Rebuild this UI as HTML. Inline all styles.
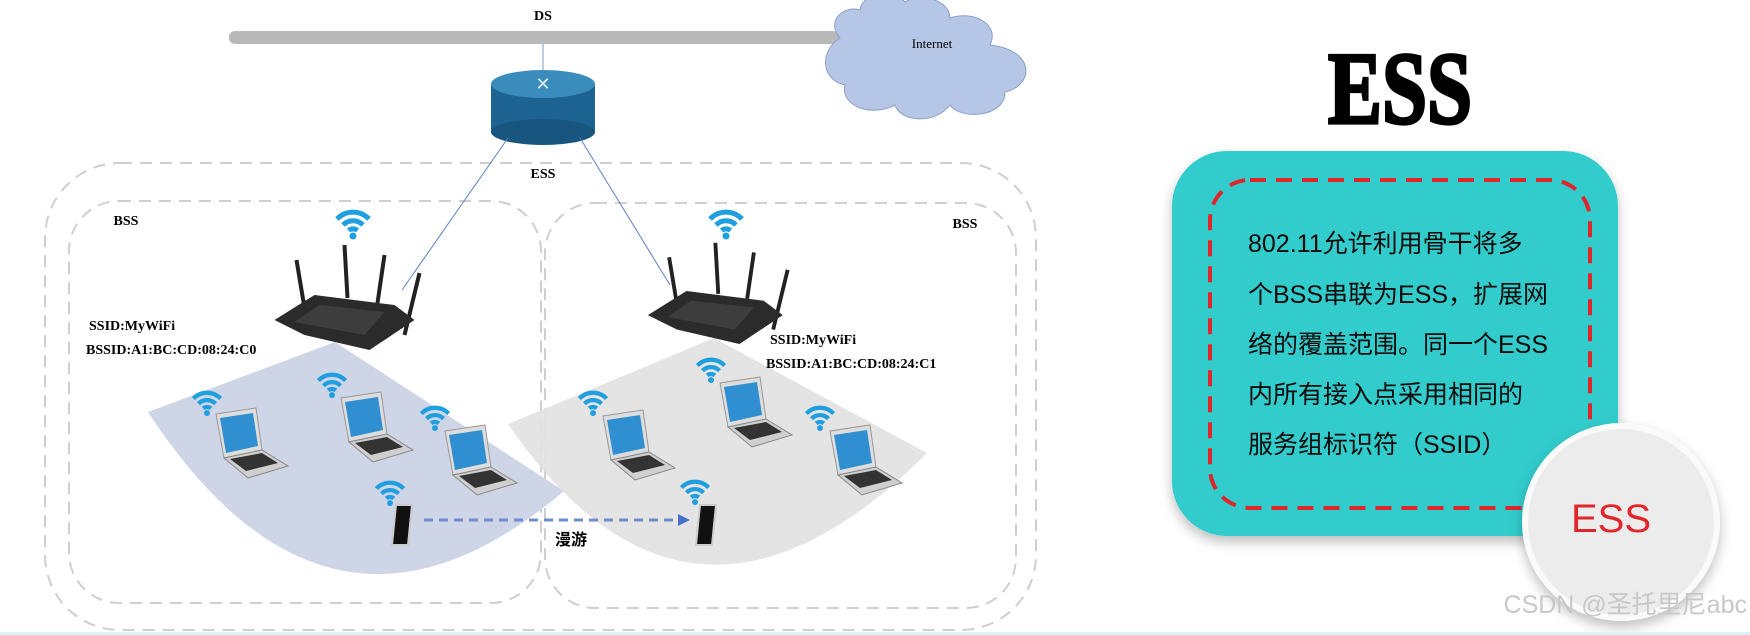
<!DOCTYPE html>
<html><head><meta charset="utf-8"><style>
html,body{margin:0;padding:0;background:#fff;width:1750px;height:635px;overflow:hidden}
svg{display:block}
</style></head><body>
<svg width="1750" height="635" viewBox="0 0 1750 635" xmlns="http://www.w3.org/2000/svg">
<defs>
<symbol id="wifi" viewBox="0 0 40 40" overflow="visible">
<path d="M4,16 A22,22 0 0 1 36,16" stroke="#1f9ee0" stroke-width="5" fill="none"/>
<path d="M10,22 A14,14 0 0 1 30,22" stroke="#1f9ee0" stroke-width="5" fill="none"/>
<path d="M15.5,27.5 A7,7 0 0 1 24.5,27.5" stroke="#1f9ee0" stroke-width="5" fill="none"/>
<circle cx="20" cy="33" r="3.5" fill="#1f9ee0"/>
</symbol>
<symbol id="laptop" viewBox="0 0 80 70" overflow="visible">
<polygon points="8,6 48,0 54,42 16,50" fill="#ddd" stroke="#999" stroke-width="1"/>
<polygon points="12,10 45,5 50,38 18,45" fill="#2f8fd0"/>
<polygon points="16,50 54,42 80,58 40,70" fill="#cfcfcf" stroke="#888" stroke-width="1"/>
<polygon points="22,51 54,45 70,55 38,63" fill="#333"/>
</symbol>
<symbol id="router" viewBox="0 0 160 110" overflow="visible">
<line x1="22" y1="20" x2="30" y2="68" stroke="#222" stroke-width="4"/>
<line x1="70" y1="5" x2="73" y2="58" stroke="#222" stroke-width="4"/>
<line x1="110" y1="15" x2="103" y2="63" stroke="#222" stroke-width="4"/>
<line x1="145" y1="33" x2="130" y2="95" stroke="#222" stroke-width="4"/>
<polygon points="0,80 40,55 120,65 140,80 95,110 30,95" fill="#2b2b2b"/>
<polygon points="20,82 45,65 110,72 90,95" fill="#3d3d3d"/>
</symbol>
<filter id="sh" x="-30%" y="-30%" width="160%" height="160%"><feDropShadow dx="0" dy="6" stdDeviation="6" flood-color="#000" flood-opacity="0.25"/></filter>
</defs>

<text x="543" y="20" font-family="Liberation Serif" font-weight="bold" font-size="14" text-anchor="middle">DS</text>
<line x1="543" y1="42" x2="543" y2="82" stroke="#7a9cc6" stroke-width="1"/>
<rect x="229" y="31" width="610" height="13" rx="6" fill="#b9b9b9"/>
<path d="M840,38 C825,20 845,5 860,10 C862,-8 895,-10 905,2 C920,-8 950,0 950,18 C975,10 1000,25 990,45 C1035,50 1035,85 1005,92 C1005,118 960,120 950,105 C935,125 900,122 895,105 C870,118 840,105 845,85 C820,80 820,50 840,38 Z" fill="#b6c6e6" stroke="#8aa0c8" stroke-width="1"/>
<text x="932" y="48" font-family="Liberation Serif" font-size="13" text-anchor="middle">Internet</text>

<rect x="45" y="163" width="991" height="467" rx="75" fill="none" stroke="#cfcfcf" stroke-width="2" stroke-dasharray="12 8"/>
<rect x="69" y="201" width="472" height="402" rx="50" fill="none" stroke="#cfcfcf" stroke-width="2" stroke-dasharray="12 8"/>
<rect x="545" y="203" width="471" height="405" rx="50" fill="none" stroke="#cfcfcf" stroke-width="2" stroke-dasharray="12 8"/>

<path d="M335,342 L148,412 Q330,690 564,491 Z" fill="#cdd5e6"/>
<path d="M714,338 L508,424 Q690,690 927,453 Z" fill="#e2e2e2" opacity="0.92"/>

<rect x="491" y="84" width="104" height="48" fill="#1d6391"/>
<ellipse cx="543" cy="132" rx="52" ry="13" fill="#17557e"/>
<ellipse cx="543" cy="84" rx="52" ry="14" fill="#3a8cbd"/>
<text x="543" y="90" font-family="DejaVu Sans" font-size="18" fill="#d9ecf7" text-anchor="middle">✕</text>
<line x1="508" y1="138" x2="402" y2="290" stroke="#5b7fc4" stroke-width="1"/>
<line x1="580" y1="138" x2="670" y2="285" stroke="#5b7fc4" stroke-width="1"/>
<text x="543" y="178" font-family="Liberation Serif" font-weight="bold" font-size="14" text-anchor="middle">ESS</text>

<text x="126" y="225" font-family="Liberation Serif" font-weight="bold" font-size="14" text-anchor="middle">BSS</text>
<text x="965" y="228" font-family="Liberation Serif" font-weight="bold" font-size="14" text-anchor="middle">BSS</text>

<use href="#wifi" x="333" y="203" width="40" height="40"/>
<use href="#router" x="272" y="240" width="165" height="110"/>
<use href="#wifi" x="706" y="203" width="40" height="40"/>
<use href="#router" x="644" y="238" width="162" height="106"/>

<g font-family="Liberation Serif" font-weight="bold" font-size="14">
<text x="89" y="330">SSID:MyWiFi</text>
<text x="86" y="354">BSSID:A1:BC:CD:08:24:C0</text>
<text x="770" y="344">SSID:MyWiFi</text>
<text x="766" y="368">BSSID:A1:BC:CD:08:24:C1</text>
</g>

<use href="#wifi" x="190" y="385" width="34" height="34"/>
<use href="#laptop" x="208" y="408" width="80" height="70"/>
<use href="#wifi" x="315" y="367" width="34" height="34"/>
<use href="#laptop" x="333" y="392" width="80" height="70"/>
<use href="#wifi" x="418" y="400" width="34" height="34"/>
<use href="#laptop" x="437" y="425" width="80" height="70"/>
<use href="#wifi" x="576" y="385" width="34" height="34"/>
<use href="#laptop" x="595" y="410" width="80" height="70"/>
<use href="#wifi" x="694" y="352" width="34" height="34"/>
<use href="#laptop" x="712" y="377" width="80" height="70"/>
<use href="#wifi" x="803" y="400" width="34" height="34"/>
<use href="#laptop" x="822" y="425" width="80" height="70"/>

<use href="#wifi" x="373" y="475" width="34" height="34"/>
<polygon points="396,505 412,505 408,545 392,545" fill="#111" stroke="#ccc" stroke-width="2"/>
<use href="#wifi" x="678" y="474" width="34" height="34"/>
<polygon points="700,505 716,505 712,545 696,545" fill="#111" stroke="#ccc" stroke-width="2"/>

<line x1="424" y1="520" x2="678" y2="520" stroke="#6f8ccf" stroke-width="3" stroke-dasharray="9 6"/>
<polygon points="678,514 690,520 678,526" fill="#4a6fc8"/>
<text x="571" y="545" font-family="Noto Sans CJK SC, sans-serif" font-weight="bold" font-size="16" text-anchor="middle">漫游</text>

<text x="0" y="0" font-family="Liberation Serif" font-weight="900" font-size="92" text-anchor="middle" stroke="#000" stroke-width="3" transform="translate(1400 123) scale(0.88,1.12)">ESS</text>
<rect x="1172" y="151" width="446" height="385" rx="55" fill="#33cccc" filter="url(#sh)"/>
<rect x="1210" y="180" width="380" height="328" rx="40" fill="none" stroke="#e0262b" stroke-width="4" stroke-dasharray="16 10"/>
<g font-family="Liberation Sans, Noto Sans CJK SC, sans-serif" font-size="25" fill="#0a0a0a">
<text x="1248" y="252">802.11允许利用骨干将多</text>
<text x="1248" y="303">个BSS串联为ESS，扩展网</text>
<text x="1248" y="353">络的覆盖范围。同一个ESS</text>
<text x="1248" y="403">内所有接入点采用相同的</text>
<text x="1248" y="453">服务组标识符（SSID）</text>
</g>
<circle cx="1621" cy="522" r="96" fill="#ececec" stroke="#fafafa" stroke-width="6" filter="url(#sh)"/>
<text x="1611" y="532" font-family="Liberation Sans, sans-serif" font-size="40" fill="#e0262b" text-anchor="middle">ESS</text>
<text x="1747" y="613" font-family="Liberation Sans, Noto Sans CJK SC, sans-serif" font-size="25" fill="#c8c8c8" text-anchor="end">CSDN @圣托里尼abc</text>
<rect x="0" y="632" width="1750" height="3" fill="#d8f4f6"/>
</svg>
</body></html>
